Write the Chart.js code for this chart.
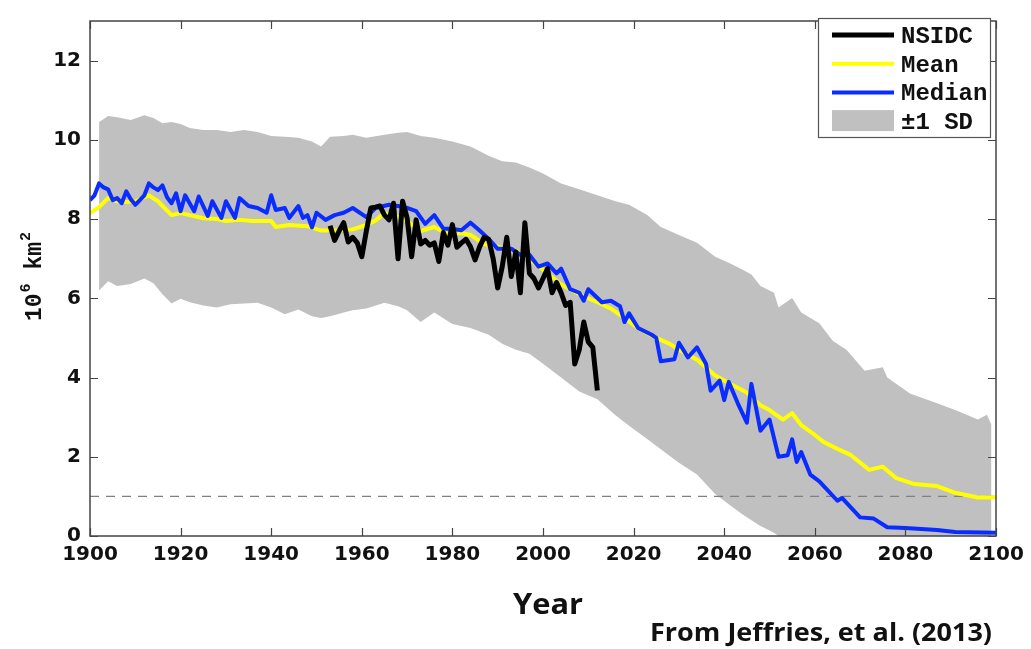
<!DOCTYPE html>
<html><head><meta charset="utf-8">
<script src="https://cdn.jsdelivr.net/npm/chart.js@4.4.1/dist/chart.umd.min.js"></script>
<style>html,body{margin:0;padding:0;background:#fff;}#wrap{width:1031px;height:649px;position:relative;}</style>
</head><body><div id="wrap"><canvas id="c" width="1031" height="649"></canvas></div>
<script>
// ---- tick labels ----
const xTicks = [1900,1920,1940,1960,1980,2000,2020,2040,2060,2080,2100];
const yTicks = [0,2,4,6,8,10,12];
const legendLabels = ['NSIDC','Mean','Median','\u00b11 SD'];
const thresholdYears = [1900,2100];
const thresholdValues = [1,1];

// ---- NSIDC observations ----
const nsidcYears = [1953,1954,1955,1956,1957,1958,1959,1960,1961,1962,1963,1964,1965,1966,1967,1968,1969,1970,1971,1972,1973,1974,1975,1976,1977,1978,1979,1980,1981,1982,1983,1984,1985,1986,1987,1988,1989,1990,1991,1992,1993,1994,1995,1996,1997,1998,1999,2000,2001,2002,2003,2004,2005,2006,2007,2008,2009,2010,2011,2012];
const nsidcValues = [7.83,7.46,7.7,7.91,7.42,7.54,7.4,7.05,7.7,8.28,8.3,8.33,8.1,7.98,8.4,7.0,8.45,8.03,7.05,7.98,7.37,7.46,7.34,7.4,6.93,7.66,7.34,7.86,7.29,7.4,7.49,7.3,6.97,7.3,7.54,7.49,7.0,6.26,6.8,7.54,6.55,7.17,6.14,7.91,6.63,6.5,6.26,6.5,6.75,6.14,6.4,6.14,5.82,5.9,4.34,4.7,5.4,4.9,4.76,3.67];

// ---- model mean ----
const meanYears = [1900,1902,1904,1906,1908,1910,1913,1915,1918,1920,1922,1925,1928,1930,1933,1936,1940,1941,1944,1948,1951,1955,1958,1961,1963,1965,1967,1970,1973,1976,1979,1982,1984,1987,1990,1994,1998,2001,2004,2008,2012,2015,2018,2021,2025,2028,2030,2034,2038,2042,2045,2048,2050,2053,2055,2057,2060,2062,2065,2068,2072,2075,2078,2082,2087,2091,2096,2100];
const meanValues = [8.15,8.3,8.53,8.45,8.43,8.45,8.6,8.45,8.1,8.15,8.1,8.02,8.0,7.95,7.98,7.95,7.95,7.8,7.85,7.82,7.71,7.72,7.74,7.85,7.96,8.15,8.1,7.95,7.7,7.8,7.62,7.65,7.6,7.37,7.3,7.2,6.9,6.63,6.35,6.1,5.9,5.74,5.5,5.25,5.0,4.85,4.7,4.45,4.05,3.8,3.62,3.3,3.18,2.94,3.1,2.8,2.55,2.37,2.2,2.04,1.67,1.75,1.46,1.31,1.26,1.09,0.97,0.97];

// ---- model median ----
const medianYears = [1900,1901,1902,1903,1904,1905,1906,1907,1908,1909,1910,1912,1913,1914,1915,1916,1917,1918,1919,1920,1921,1923,1924,1926,1927,1929,1930,1932,1933,1935,1937,1939,1940,1941,1943,1944,1946,1947,1948,1949,1950,1952,1954,1956,1958,1961,1963,1966,1968,1970,1972,1974,1976,1978,1980,1982,1984,1986,1988,1990,1993,1995,1997,1998,1999,2001,2003,2004,2006,2008,2009,2010,2013,2015,2017,2018,2019,2021,2024,2025,2026,2029,2030,2032,2034,2036,2037,2039,2040,2041,2043,2045,2046,2048,2050,2052,2054,2055,2056,2057,2059,2061,2065,2066,2070,2073,2076,2080,2087,2091,2100];
const medianValues = [8.48,8.6,8.9,8.8,8.75,8.48,8.53,8.4,8.7,8.5,8.36,8.6,8.9,8.8,8.73,8.85,8.55,8.4,8.65,8.2,8.6,8.2,8.57,8.08,8.45,8.03,8.45,8.03,8.53,8.33,8.28,8.16,8.6,8.23,8.28,8.03,8.33,8.03,8.1,7.79,8.16,7.98,8.1,8.16,8.28,8.05,8.28,8.36,8.33,8.28,8.2,7.88,8.1,7.76,7.75,7.72,7.91,7.71,7.5,7.25,7.25,7.1,7.1,6.95,6.8,6.88,6.63,6.75,6.23,6.14,5.94,6.23,5.9,5.94,5.8,5.4,5.62,5.25,5.08,5.0,4.41,4.46,4.88,4.51,4.76,4.34,3.67,3.92,3.43,3.89,3.35,2.86,3.84,2.66,2.94,2.0,2.04,2.44,1.87,2.12,1.55,1.38,0.89,0.96,0.47,0.44,0.22,0.2,0.15,0.1,0.08];

// ---- +/-1 SD envelope ----
const bandYears = [1902,1904,1906,1909,1912,1914,1916,1918,1920,1922,1925,1928,1931,1934,1937,1940,1943,1946,1949,1951,1953,1956,1958,1961,1965,1968,1970,1973,1976,1980,1984,1988,1991,1994,1997,2000,2004,2008,2012,2016,2019,2023,2026,2030,2034,2038,2041,2044,2046,2048,2051,2052,2055,2057,2061,2064,2067,2071,2075,2076,2081,2087,2091,2096,2098,2099];
const bandUpper = [10.45,10.6,10.57,10.5,10.62,10.55,10.42,10.45,10.4,10.3,10.25,10.25,10.2,10.25,10.2,10.1,10.08,10.05,9.96,9.83,10.08,10.1,10.13,10.05,10.13,10.18,10.2,10.1,10.05,9.96,9.83,9.6,9.46,9.43,9.3,9.15,8.9,8.75,8.6,8.45,8.36,8.1,7.8,7.6,7.4,7.05,6.9,6.73,6.6,6.31,6.14,5.77,6.01,5.64,5.37,4.92,4.7,4.17,4.26,4.0,3.6,3.35,3.18,2.94,3.06,2.81];
const bandLower = [6.2,6.43,6.31,6.36,6.5,6.38,6.1,5.87,5.99,5.9,5.82,5.77,5.85,5.87,5.89,5.77,5.6,5.72,5.55,5.5,5.55,5.64,5.7,5.74,5.89,5.8,5.7,5.4,5.64,5.35,5.25,5.08,4.85,4.7,4.6,4.35,4.0,3.65,3.45,3.05,2.78,2.45,2.19,1.85,1.55,1.06,0.8,0.55,0.4,0.25,0.08,0.0,-0.2,-0.4,-0.8,-1.0,-1.2,-1.5,-1.8,-1.9,-2.2,-2.5,-2.7,-2.9,-3.0,-3.0];

const pts = (xs, ys) => xs.map((x, i) => ({x: x, y: ys[i]}));

const COL_BLACK = '#000000', COL_YELLOW = '#ffff00', COL_BLUE = '#0a2cff', COL_BAND = '#c0c0c0';

const frameAndText = {
  id: 'frameAndText',
  afterDatasetsDraw(chart) {
    const ctx = chart.ctx, a = chart.chartArea;
    const xs = chart.scales.x, ys = chart.scales.y;
    ctx.save();
    ctx.strokeStyle = '#444';
    ctx.lineWidth = 1.5;
    ctx.strokeRect(a.left, a.top, a.right - a.left, a.bottom - a.top);
    ctx.lineWidth = 1.2;
    ctx.beginPath();
    const tl = 8;
    xTicks.forEach(v => {
      const px = Math.round(xs.getPixelForValue(v)) + 0.5;
      ctx.moveTo(px, a.bottom); ctx.lineTo(px, a.bottom - tl);
      ctx.moveTo(px, a.top); ctx.lineTo(px, a.top + tl);
    });
    yTicks.forEach(v => {
      const py = Math.round(ys.getPixelForValue(v)) + 0.5;
      ctx.moveTo(a.left, py); ctx.lineTo(a.left + tl, py);
      ctx.moveTo(a.right, py); ctx.lineTo(a.right - tl, py);
    });
    ctx.stroke();
    ctx.restore();
  },
  afterDraw(chart) {
    const ctx = chart.ctx;
    // legend
    ctx.save();
    ctx.fillStyle = '#fff';
    ctx.fillRect(818, 18, 172, 119);
    ctx.strokeStyle = '#555';
    ctx.lineWidth = 1.2;
    ctx.strokeRect(818.5, 18.5, 172, 119);
    const ds = chart.data.datasets;
    const items = [
      {label: legendLabels[0], color: ds[0].borderColor, w: 5, type: 'line'},
      {label: legendLabels[1], color: ds[2].borderColor, w: 4, type: 'line'},
      {label: legendLabels[3 - 1], color: ds[1].borderColor, w: 4, type: 'line'},
      {label: legendLabels[3], color: ds[4].backgroundColor, type: 'box'}
    ];
    items.forEach((it, i) => {
      const cy = 35 + i * 28.7;
      if (it.type === 'line') {
        ctx.strokeStyle = it.color; ctx.lineWidth = it.w;
        ctx.beginPath(); ctx.moveTo(832, cy); ctx.lineTo(894, cy); ctx.stroke();
      } else {
        ctx.fillStyle = it.color; ctx.fillRect(832, cy - 11, 62, 21);
      }
      ctx.fillStyle = '#111';
      ctx.font = 'bold 24px "Liberation Mono", "DejaVu Sans Mono", monospace';
      ctx.textBaseline = 'middle';
      ctx.textAlign = 'left';
      ctx.fillText(it.label, 901, cy + 2);
    });
    ctx.restore();

    // y-axis title 10^6 km^2 (rotated)
    ctx.save();
    ctx.translate(41, 321);
    ctx.rotate(-Math.PI / 2);
    ctx.fillStyle = '#111';
    ctx.textBaseline = 'alphabetic';
    ctx.textAlign = 'left';
    const big = 'bold 23px "Liberation Mono", monospace', sm = 'bold 15px "Liberation Mono", monospace';
    let w = 0;
    ctx.font = big; ctx.fillText('10', w, 0); w += ctx.measureText('10').width + 1;
    ctx.font = sm; ctx.fillText('6', w, -11); w += ctx.measureText('6').width;
    ctx.font = big; ctx.fillText(' km', w, 0); w += ctx.measureText(' km').width + 1;
    ctx.font = sm; ctx.fillText('2', w, -11);
    ctx.restore();

    // x-axis title and source note
    const fitted = (text, x, baseline, font, width) => {
      ctx.save();
      ctx.font = font;
      const m = ctx.measureText(text).width;
      ctx.translate(x, baseline);
      ctx.scale(width / m, 1);
      ctx.fillStyle = '#111';
      ctx.textBaseline = 'alphabetic';
      ctx.textAlign = 'left';
      ctx.fillText(text, 0, 0);
      ctx.restore();
    };
    fitted('Year', 513, 614, 'bold 29px "Open Sans", sans-serif', 70);
    fitted('From Jeffries, et al. (2013)', 650, 641, 'bold 25px "Open Sans", sans-serif', 342);
  }
};

new Chart(document.getElementById('c'), {
  type: 'line',
  data: {
    datasets: [
      {label: 'NSIDC', data: pts(nsidcYears, nsidcValues), borderColor: COL_BLACK, borderWidth: 5, pointRadius: 0, tension: 0, fill: false, order: 0, borderJoinStyle: 'round'},
      {label: 'Median', data: pts(medianYears, medianValues), borderColor: COL_BLUE, borderWidth: 4, pointRadius: 0, tension: 0, fill: false, order: 1, borderJoinStyle: 'round'},
      {label: 'Mean', data: pts(meanYears, meanValues), borderColor: COL_YELLOW, borderWidth: 4, pointRadius: 0, tension: 0, fill: false, order: 2, borderJoinStyle: 'round'},
      {label: 'threshold', data: pts(thresholdYears, thresholdValues), borderColor: '#7f7f7f', borderWidth: 1.3, borderDash: [9, 7], pointRadius: 0, fill: false, order: 3},
      {label: 'SD upper', data: pts(bandYears, bandUpper), borderColor: COL_BAND, backgroundColor: COL_BAND, borderWidth: 0, pointRadius: 0, tension: 0, fill: '+1', order: 4},
      {label: 'SD lower', data: pts(bandYears, bandLower), borderColor: COL_BAND, borderWidth: 0, pointRadius: 0, tension: 0, fill: false, order: 5}
    ]
  },
  options: {
    responsive: false,
    animation: false,
    layout: {padding: {left: 0, right: 35, top: 8, bottom: 73}},
    plugins: {legend: {display: false}, tooltip: {enabled: false}, filler: {propagate: false}},
    scales: {
      x: {
        type: 'linear', min: 1900, max: 2100,
        afterBuildTicks: s => { s.ticks = xTicks.map(v => ({value: v})); },
        afterFit: s => { s.height = 40; },
        ticks: {font: {family: 'DejaVu Sans', weight: 'bold', size: 20}, color: '#111', padding: 7, maxRotation: 0, autoSkip: false, callback: v => String(v)},
        grid: {display: false, drawTicks: false},
        border: {display: false}
      },
      y: {
        type: 'linear', min: 0, max: 13,
        afterBuildTicks: s => { s.ticks = yTicks.map(v => ({value: v})); },
        afterFit: s => { s.width = 90; },
        ticks: {font: {family: 'DejaVu Sans', weight: 'bold', size: 20}, color: '#111', padding: 9, autoSkip: false, callback: v => String(v)},
        grid: {display: false, drawTicks: false},
        border: {display: false}
      }
    }
  },
  plugins: [frameAndText]
});
</script>
</body></html>
